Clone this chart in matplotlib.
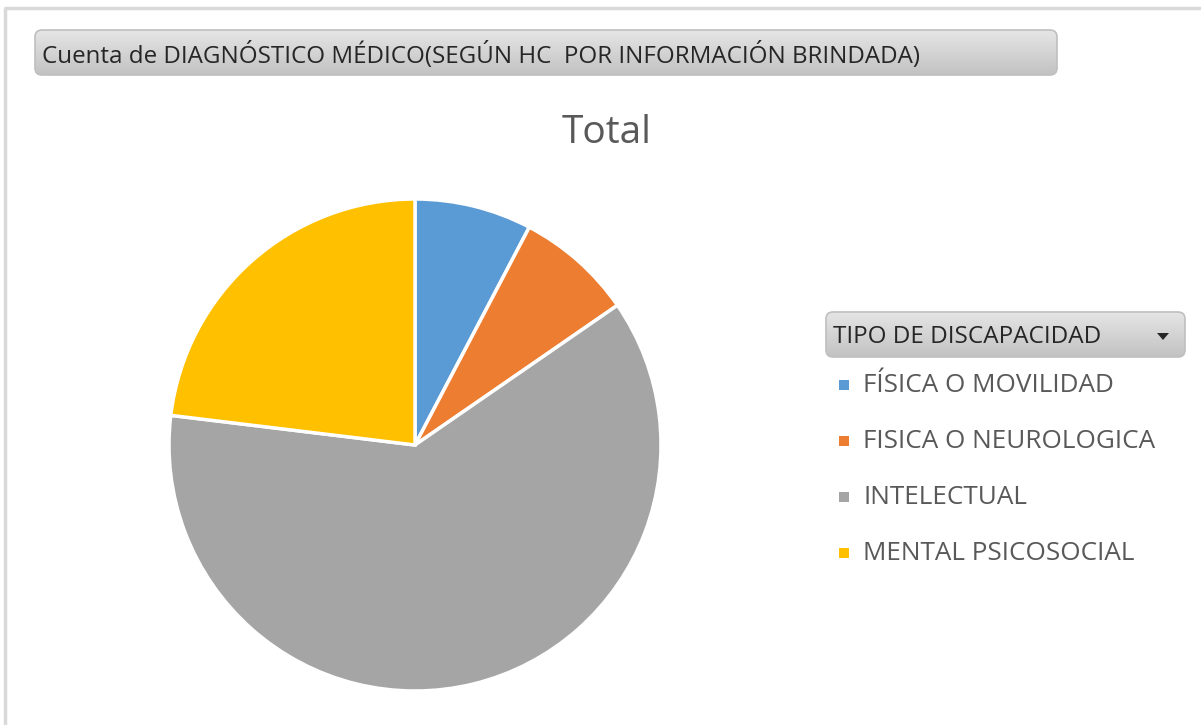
import numpy as np
import matplotlib
matplotlib.use("Agg")
import matplotlib.pyplot as plt
from matplotlib.patches import FancyBboxPatch, Rectangle, Polygon

categories = ["FÍSICA O MOVILIDAD", "FISICA O NEUROLOGICA", "INTELECTUAL", "MENTAL PSICOSOCIAL"]
counts = [1, 1, 8, 3]
colors = ["#5B9BD5", "#ED7D31", "#A5A5A5", "#FFC000"]
header_text = "Cuenta de DIAGNÓSTICO MÉDICO(SEGÚN HC  POR INFORMACIÓN BRINDADA)"
legend_title = "TIPO DE DISCAPACIDAD"
chart_title = "Total"

W, H = 1201, 725
fig = plt.figure(figsize=(W / 100, H / 100), dpi=100)
fig.patch.set_facecolor("white")
FONT = "Open Sans"

# background overlay axes in pixel coords (y down)
bg = fig.add_axes([0, 0, 1, 1])
bg.set_xlim(0, W)
bg.set_ylim(H, 0)
bg.axis("off")

# outer frame lines
bg.plot([4, W], [8, 8], color="#D9D9D9", lw=2.5, solid_capstyle="butt")
bg.plot([5, 5], [8, H], color="#D9D9D9", lw=2.5, solid_capstyle="butt")


def gradient_button(x0, y0, x1, y1):
    patch = FancyBboxPatch((x0, y0), x1 - x0, y1 - y0,
                           boxstyle="round,pad=0,rounding_size=7",
                           facecolor="none", edgecolor="#BFBFBF", lw=1.2, zorder=3)
    bg.add_patch(patch)
    grad = np.linspace(0, 1, 100).reshape(-1, 1)
    top = np.array([0.90, 0.90, 0.90])
    bot = np.array([0.76, 0.76, 0.76])
    img = top + (bot - top) * grad[..., None]
    img = np.repeat(img, 2, axis=1)
    im = bg.imshow(img, extent=(x0, x1, y1, y0), aspect="auto", zorder=2, interpolation="bilinear")
    im.set_clip_path(patch)


gradient_button(35, 30, 1057, 75)
bg.text(42, 55, header_text, fontsize=17.4, family=FONT, color="#262626",
        va="center", ha="left", zorder=4)

bg.text(607, 133, chart_title, fontsize=28, family=FONT, color="#595959",
        va="center", ha="center", zorder=4)

# legend header
gradient_button(826, 312, 1185, 357)
bg.text(833, 337, legend_title, fontsize=17.5, family=FONT, color="#262626",
        va="center", ha="left", zorder=4)
bg.add_patch(Polygon([[1157, 333], [1169, 333], [1163, 340]], closed=True,
                     facecolor="#262626", edgecolor="none", zorder=4))

ys = [385, 441, 497, 553]
for cat, col, y in zip(categories, colors, ys):
    bg.add_patch(Rectangle((839, y - 5), 10, 10, facecolor=col, edgecolor="none", zorder=4))
    bg.text(863, y, cat, fontsize=18.8, family=FONT, color="#595959",
            va="center", ha="left", zorder=4)

# pie
cx, cy, r = 415, 445, 246
ax = fig.add_axes([(cx - r) / W, (H - cy - r) / H, 2 * r / W, 2 * r / H])
ax.pie(counts, colors=colors, startangle=90, counterclock=False, radius=1,
       wedgeprops=dict(edgecolor="white", linewidth=2.5))
ax.set_xlim(-1.0, 1.0)
ax.set_ylim(-1.0, 1.0)
ax.set_aspect("equal")
ax.axis("off")

fig.savefig("out.png", dpi=100, facecolor="white")
